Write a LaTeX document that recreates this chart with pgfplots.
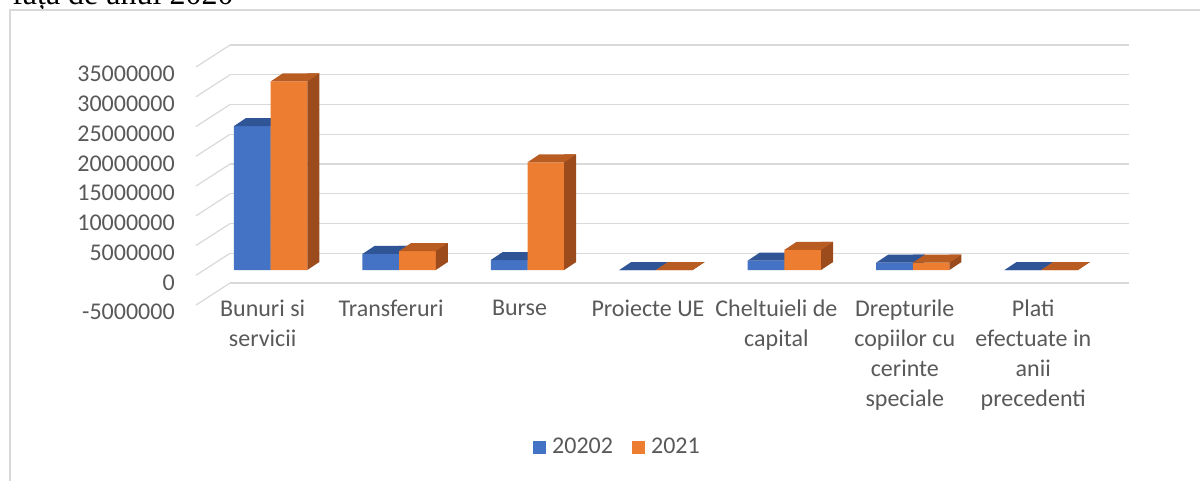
\documentclass[border=0pt]{standalone}
\usepackage{fontspec}
\setmainfont{Carlito}
\newfontfamily\seriffont{Liberation Serif}
\usepackage{pgfplots}
\pgfplotsset{compat=1.18}
\usepackage{pgfplotstable}

\definecolor{bluefront}{HTML}{4472C4}
\definecolor{bluetop}{HTML}{2F5597}
\definecolor{blueside}{HTML}{284A84}
\definecolor{orfront}{HTML}{ED7D31}
\definecolor{ortop}{HTML}{B85C22}
\definecolor{orside}{HTML}{9C4C1C}
\definecolor{gridc}{HTML}{D9D9D9}
\definecolor{txt}{HTML}{595959}

\pgfplotstableread{
x y2020 y2021
0 24200000 31700000
1 2690000 3190000
2 1680000 18100000
3 0 0
4 1570000 3370000
5 1230000 1230000
6 0 0
}\data

% top face of a bar (origin = top centre of front face)
\pgfdeclareplotmark{topface}{%
  \pgfpathmoveto{\pgfqpoint{-13.755pt}{0pt}}%
  \pgfpathlineto{\pgfqpoint{13.755pt}{0pt}}%
  \pgfpathlineto{\pgfqpoint{22.755pt}{6pt}}%
  \pgfpathlineto{\pgfqpoint{-4.755pt}{6pt}}%
  \pgfpathclose\pgfusepathqfill}
% lower triangle of the side face (origin = bottom centre of front face)
\pgfdeclareplotmark{sidetri}{%
  \pgfpathmoveto{\pgfqpoint{13.755pt}{0pt}}%
  \pgfpathlineto{\pgfqpoint{22.755pt}{6pt}}%
  \pgfpathlineto{\pgfqpoint{13.755pt}{6pt}}%
  \pgfpathclose\pgfusepathqfill}

\begin{document}
\begin{tikzpicture}
\useasboundingbox (0,0) rectangle (900pt,360pt);
\clip (0,0) rectangle (900pt,360pt);
\node[anchor=base west, inner sep=0pt, font=\seriffont\fontsize{24pt}{28pt}\selectfont] at (9pt,357pt) {față de anul 2020};
\draw[gridc, line width=1.1pt] (7.5pt,-10pt) rectangle (910pt,352.5pt);

% back wall with gridlines
\begin{axis}[at={(172.5pt,147.72pt)}, anchor=south west, scale only axis,
  width=674.25pt, height=178.5pt,
  xmin=-0.5, xmax=6.5, ymin=-5000000, ymax=35000000,
  ytick={-5000000,0,5000000,10000000,15000000,20000000,25000000,30000000,35000000},
  yticklabels={}, xtick=\empty, ymajorgrids,
  major grid style={gridc, line width=0.9pt},
  axis line style={draw=none}, major tick length=0pt, scaled y ticks=false]
\addplot[draw=none, forget plot] coordinates {(0,0)};
\end{axis}

\begin{axis}[at={(154.84pt,135.19pt)}, anchor=south west, scale only axis,
  width=674.25pt, height=178.5pt,
  xmin=-0.5, xmax=6.5, ymin=-5000000, ymax=35000000, clip=false,
  clip marker paths=true,
  axis line style={draw=none}, major tick length=0pt, scaled y ticks=false,
  ytick={-5000000,0,5000000,10000000,15000000,20000000,25000000,30000000,35000000},
  yticklabels={-5000000,0,5000000,10000000,15000000,20000000,25000000,30000000,35000000},
  yticklabel style={anchor=east, inner sep=0pt, xshift=-23.6pt, yshift=-9.4pt,
    font=\fontsize{18pt}{22.5pt}\selectfont, text=txt},
  xtick={0,1,2,3,4,5,6},
  xticklabels={{Bunuri si\\servicii},{Transferuri},{Burse},{Proiecte UE},{Cheltuieli de\\capital},{Drepturile\\copiilor cu\\cerinte\\speciale},{Plati\\efectuate in\\anii\\precedenti}},
  xticklabel style={align=center, anchor=north, inner sep=0pt, xshift=-6pt, yshift=0pt,
    font=\fontsize{18pt}{22.5pt}\selectfont, text=txt},
  legend columns=2,
  legend image code/.code={\fill[#1] (0pt,-4.9pt) rectangle (9.75pt,4.9pt);},
  legend style={draw=none, fill=none, at={(0.457,-0.619)}, anchor=center,
    font=\fontsize{18pt}{22.5pt}\selectfont, text=txt,
    nodes={inner sep=1pt},
    /tikz/every odd column/.append style={column sep=3.3pt},
    /tikz/every even column/.append style={column sep=13.5pt}},
]
\pgfplotsinvokeforeach{-5000000,0,5000000,10000000,15000000,20000000,25000000,30000000,35000000}{
  \draw[gridc, line width=0.9pt] ([xshift=-7.84pt,yshift=-3.94pt]axis cs:-0.5,#1) -- ([xshift=17.66pt,yshift=12.53pt]axis cs:-0.5,#1);
}
% 2020 series
\addplot[ybar, bar width=0.2856, bar shift=-0.1428, fill=bluefront, draw=none] table[x=x, y=y2020] {\data};
\addlegendentry{20202}
\addplot[ybar, bar width=9pt, bar shift=4.5pt, yshift=6pt, fill=blueside, draw=none, forget plot] table[x=x, y=y2020] {\data};
\addplot[only marks, mark=sidetri, mark options={fill=blueside, draw=none}, forget plot] table[x expr=\thisrow{x}-0.1428, y expr=0] {\data};
\addplot[only marks, mark=topface, mark options={fill=bluetop, draw=none}, forget plot] table[x expr=\thisrow{x}-0.1428, y=y2020] {\data};
% 2021 series
\addplot[ybar, bar width=0.2856, bar shift=0.1428, fill=orfront, draw=none] table[x=x, y=y2021] {\data};
\addlegendentry{2021}
\addplot[ybar, bar width=9pt, bar shift=32.01pt, yshift=6pt, fill=orside, draw=none, forget plot] table[x=x, y=y2021] {\data};
\addplot[only marks, mark=sidetri, mark options={fill=orside, draw=none}, forget plot] table[x expr=\thisrow{x}+0.1428, y expr=0] {\data};
\addplot[only marks, mark=topface, mark options={fill=ortop, draw=none}, forget plot] table[x expr=\thisrow{x}+0.1428, y=y2021] {\data};
\end{axis}
\end{tikzpicture}
\end{document}
